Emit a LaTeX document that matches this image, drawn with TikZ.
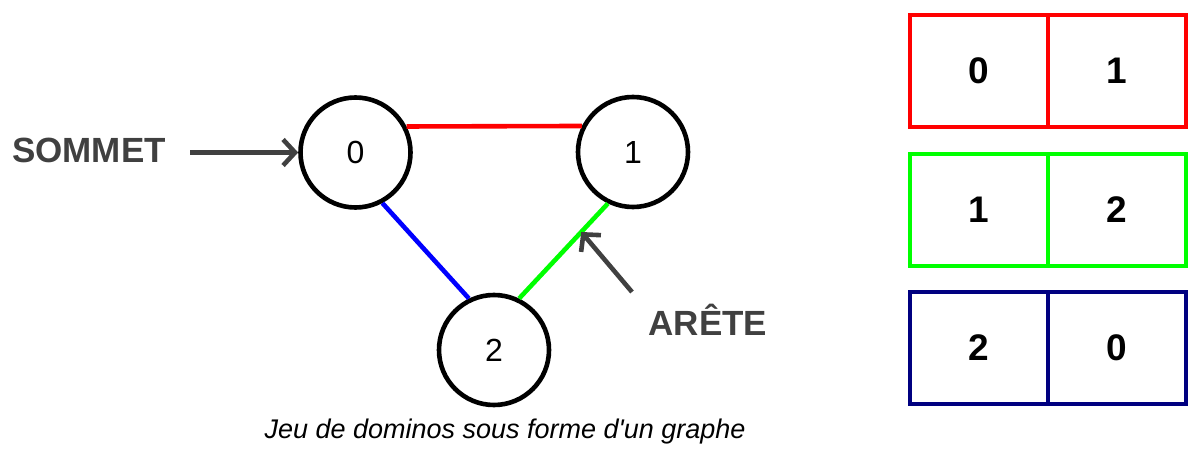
\documentclass[tikz,border=0pt]{standalone}
\usepackage{fontspec}
\setmainfont{Liberation Sans}[Ligatures=TeXOff]
\usetikzlibrary{arrows.meta}
\definecolor{txtgray}{HTML}{404040}
\definecolor{egreen}{HTML}{00FF00}
\definecolor{eblue}{HTML}{0000FF}
\definecolor{navyblue}{HTML}{000080}
\definecolor{ered}{HTML}{FF0000}
\begin{document}
\begin{tikzpicture}[x=1pt,y=-1pt,
  vertex/.style={circle,draw=black,line width=4.6pt,minimum size=110pt,inner sep=0pt,font=\fontsize{32}{34}\selectfont},
  edge/.style={line width=4.6pt},
  pointer/.style={draw=txtgray,line width=4.6pt,-{Straight Barb[length=12pt,width=26pt]}},
  tag/.style={text=txtgray,inner sep=0pt,font=\bfseries\fontsize{35}{38}\selectfont},
  cell/.style={draw,line width=4.6pt,minimum width=138pt,minimum height=112pt,inner sep=0pt,font=\bfseries\fontsize{37}{40}\selectfont},
  caption/.style={inner sep=0pt,font=\itshape\fontsize{27}{30}\selectfont}
]
\useasboundingbox (0,0) rectangle (1188,449);

\node[vertex] (n0) at (355.5,152.5) {0};
\node[vertex] (n1) at (633,152) {1};
\node[vertex] (n2) at (494,350) {2};

\draw[edge,ered] (n0.27) -- (n1.153);
\draw[edge,eblue] (n0.-62) -- (n2.116);
\draw[edge,egreen] (n2.64) -- (n1.244) coordinate[pos=0.7] (g);

\node[tag] (sommet) at (89,150) {SOMMET};
\coordinate (s1) at (190,152.5);
\draw[pointer] (s1) -- (n0.west);

\node[tag] (arete) at (708,320) {ARÊTE};
\coordinate (a1) at (632,292);
\draw[pointer] (a1) -- (g);

\node[caption] (cap) at (505,432) {Jeu de dominos sous forme d'un graphe};

\node[cell,draw=ered] (r0) at (979,71) {0};
\node[cell,draw=ered] (r1) at (1117,71) {1};
\node[cell,draw=egreen] (g1) at (979,210) {1};
\node[cell,draw=egreen] (g2) at (1117,210) {2};
\node[cell,draw=navyblue] (b2) at (979,348) {2};
\node[cell,draw=navyblue] (b0) at (1117,348) {0};
\end{tikzpicture}
\end{document}
